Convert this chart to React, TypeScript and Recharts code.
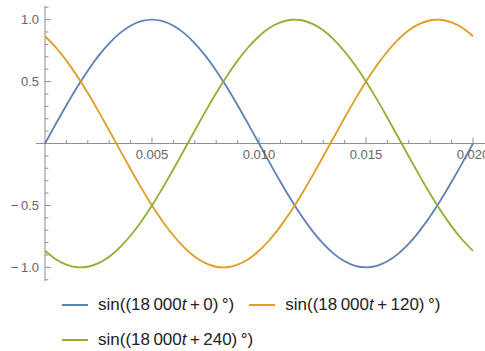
import React from 'react';
import { LineChart, Line, XAxis, YAxis, ReferenceLine } from 'recharts';

// Sample times (s)
const times = [
  0, 0.0005, 0.001, 0.0015, 0.002, 0.0025, 0.003, 0.0035, 0.004, 0.0045,
  0.005, 0.0055, 0.006, 0.0065, 0.007, 0.0075, 0.008, 0.0085, 0.009, 0.0095,
  0.01, 0.0105, 0.011, 0.0115, 0.012, 0.0125, 0.013, 0.0135, 0.014, 0.0145,
  0.015, 0.0155, 0.016, 0.0165, 0.017, 0.0175, 0.018, 0.0185, 0.019, 0.0195,
  0.02,
];

// Phase 0°
const phase0 = [
  0, 0.156, 0.309, 0.454, 0.588, 0.707, 0.809, 0.891, 0.951, 0.988,
  1, 0.988, 0.951, 0.891, 0.809, 0.707, 0.588, 0.454, 0.309, 0.156,
  0, -0.156, -0.309, -0.454, -0.588, -0.707, -0.809, -0.891, -0.951, -0.988,
  -1, -0.988, -0.951, -0.891, -0.809, -0.707, -0.588, -0.454, -0.309, -0.156,
  0,
];

// Phase 120°
const phase120 = [
  0.866, 0.777, 0.669, 0.545, 0.407, 0.259, 0.105, -0.052, -0.208, -0.358,
  -0.5, -0.629, -0.743, -0.839, -0.914, -0.966, -0.995, -0.999, -0.978, -0.934,
  -0.866, -0.777, -0.669, -0.545, -0.407, -0.259, -0.105, 0.052, 0.208, 0.358,
  0.5, 0.629, 0.743, 0.839, 0.914, 0.966, 0.995, 0.999, 0.978, 0.934,
  0.866,
];

// Phase 240°
const phase240 = [
  -0.866, -0.934, -0.978, -0.999, -0.995, -0.966, -0.914, -0.839, -0.743, -0.629,
  -0.5, -0.358, -0.208, -0.052, 0.105, 0.259, 0.407, 0.545, 0.669, 0.777,
  0.866, 0.934, 0.978, 0.999, 0.995, 0.966, 0.914, 0.839, 0.743, 0.629,
  0.5, 0.358, 0.208, 0.052, -0.105, -0.259, -0.407, -0.545, -0.669, -0.777,
  -0.866,
];

const xMajorTicks = [0.005, 0.01, 0.015, 0.02];
const xTickLabels = ['0.005', '0.010', '0.015', '0.020'];
const xMinorTicks = [
  0.001, 0.002, 0.003, 0.004, 0.006, 0.007, 0.008, 0.009,
  0.011, 0.012, 0.013, 0.014, 0.016, 0.017, 0.018, 0.019,
];
const yMajorTicks = [1, 0.5, -0.5, -1];
const yTickLabels = ['1.0', '0.5', '\u2212\u20090.5', '\u2212\u20091.0'];
const yMinorTicks = [
  1.1, 0.9, 0.8, 0.7, 0.6, 0.4, 0.3, 0.2, 0.1,
  -0.1, -0.2, -0.3, -0.4, -0.6, -0.7, -0.8, -0.9, -1.1,
];

const seriesPhases = ['0', '120', '240'];
const colors = ['#5E81B5', '#E19C24', '#8FB032'];

const data = times.map((t, i) => ({
  t,
  s0: phase0[i],
  s120: phase120[i],
  s240: phase240[i],
}));

const FONT = '"Liberation Sans", Arial, Helvetica, sans-serif';
const AXIS = '#8f8f8f';
const LABEL = '#666666';

const X_MAJOR = 0.00028;
const X_MINOR = 0.00016;
const Y_MAJOR = 0.048;
const Y_MINOR = 0.028;

function LegendItem({ phase, color }: { phase: string; color: string }) {
  return (
    <div style={{ display: 'flex', alignItems: 'center' }}>
      <div style={{ width: 26, height: 2, background: color, marginRight: 10 }} />
      <span style={{ fontSize: 17, color: '#222', whiteSpace: 'nowrap' }}>
        sin((18{'\u2009'}000<i>t</i>{'\u2009'}+{'\u2009'}{phase}){'\u2009'}°)
      </span>
    </div>
  );
}

export default function App() {
  return (
    <div
      style={{
        position: 'absolute',
        left: 0,
        top: 0,
        width: 485,
        height: 351,
        background: '#fff',
        fontFamily: FONT,
      }}
    >
      <LineChart
        width={485}
        height={351}
        data={data}
        margin={{ top: 6, right: 0, bottom: 70, left: 36 }}
      >
        <XAxis
          dataKey="t"
          type="number"
          domain={[-0.00042, 0.02056]}
          allowDataOverflow
          hide
        />
        <YAxis type="number" domain={[-1.11, 1.11]} allowDataOverflow hide />

        <ReferenceLine y={0} stroke={AXIS} strokeWidth={1} />
        <ReferenceLine x={0} stroke={AXIS} strokeWidth={1} />

        {xMinorTicks.map((v) => (
          <ReferenceLine
            key={`xm${v}`}
            segment={[{ x: v, y: 0 }, { x: v, y: Y_MINOR }]}
            stroke={AXIS}
          />
        ))}
        {xMajorTicks.map((v, i) => (
          <ReferenceLine
            key={`xM${v}`}
            segment={[{ x: v, y: 0 }, { x: v, y: Y_MAJOR }]}
            stroke={AXIS}
            label={{
              value: xTickLabels[i],
              position: 'bottom',
              offset: 6,
              fill: LABEL,
              fontSize: 13,
              fontFamily: FONT,
            }}
          />
        ))}
        {yMinorTicks.map((v) => (
          <ReferenceLine
            key={`ym${v}`}
            segment={[{ x: 0, y: v }, { x: X_MINOR, y: v }]}
            stroke={AXIS}
          />
        ))}
        {yMajorTicks.map((v, i) => (
          <ReferenceLine
            key={`yM${v}`}
            segment={[{ x: 0, y: v }, { x: X_MAJOR, y: v }]}
            stroke={AXIS}
            label={{
              value: yTickLabels[i],
              position: 'left',
              offset: 6,
              fill: LABEL,
              fontSize: 13,
              fontFamily: FONT,
            }}
          />
        ))}

        <Line type="natural" dataKey="s0" stroke={colors[0]} strokeWidth={1.8} dot={false} isAnimationActive={false} />
        <Line type="natural" dataKey="s120" stroke={colors[1]} strokeWidth={1.8} dot={false} isAnimationActive={false} />
        <Line type="natural" dataKey="s240" stroke={colors[2]} strokeWidth={1.8} dot={false} isAnimationActive={false} />
      </LineChart>

      <div style={{ position: 'absolute', left: 62, top: 295, display: 'flex' }}>
        <LegendItem phase={seriesPhases[0]} color={colors[0]} />
        <div style={{ width: 15 }} />
        <LegendItem phase={seriesPhases[1]} color={colors[1]} />
      </div>
      <div style={{ position: 'absolute', left: 62, top: 330, display: 'flex' }}>
        <LegendItem phase={seriesPhases[2]} color={colors[2]} />
      </div>
    </div>
  );
}
